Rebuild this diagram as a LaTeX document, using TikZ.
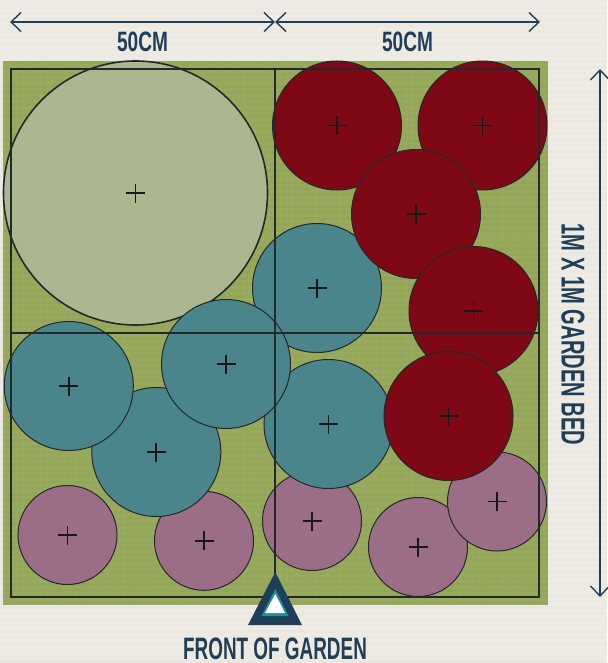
\documentclass[tikz,border=0pt]{standalone}
\usepackage{fontspec}
\usetikzlibrary{arrows.meta}
\setmainfont{Liberation Sans}
\newfontfamily\lblshort[FakeStretch=0.68]{Liberation Sans}
\newfontfamily\lbllong[FakeStretch=0.61]{Liberation Sans}
\definecolor{paper}{HTML}{EEEBE5}
\definecolor{bed}{HTML}{97A95B}
\definecolor{ink}{HTML}{1F3F58}
\definecolor{gridc}{HTML}{23282A}
\definecolor{markc}{HTML}{16191A}
\definecolor{sage}{HTML}{ADB78F}
\definecolor{wine}{HTML}{7E0816}
\definecolor{tealc}{HTML}{4A858B}
\definecolor{plum}{HTML}{9B6D87}
\definecolor{tealb}{HTML}{1F9098}
\tikzset{
  plant/.style={circle,draw=gridc,line width=1pt,inner sep=0pt,outer sep=0pt},
  big/.style={plant,fill=sage,minimum size=264pt,line width=1.6pt},
  red/.style={plant,fill=wine,minimum size=129pt},
  tl/.style={plant,fill=tealc,minimum size=129pt},
  pur/.style={plant,fill=plum,minimum size=99pt},
  mk/.style={draw=markc,line width=1.8pt},
  gridl/.style={gridc,line width=1.6pt},
  dim/.style={ink,line width=1.4pt,{Straight Barb[length=10pt,width=19pt]}-{Straight Barb[length=10pt,width=19pt]}},
  labs/.style={ink,font=\lblshort\bfseries\fontsize{28}{28}\selectfont,inner sep=0pt},
  labl/.style={ink,font=\lbllong\bfseries\fontsize{33}{33}\selectfont,inner sep=0pt},
  labf/.style={ink,font=\lbllong\bfseries\fontsize{31}{31}\selectfont,inner sep=0pt}
}
\newcommand{\plusmark}[1]{\draw[mk] ([xshift=-9.5pt]#1.center) -- ([xshift=9.5pt]#1.center) ([yshift=-9.5pt]#1.center) -- ([yshift=9.5pt]#1.center);}
\begin{document}
\begin{tikzpicture}[x=1pt,y=-1pt]
\useasboundingbox (0,0) rectangle (607,663);
\fill[paper] (0,0) rectangle (607,663);
\pgfmathsetseed{7}
\foreach \i in {0,6,...,606} {\pgfmathsetmacro{\o}{0.01+0.03*rnd}\fill[white,opacity=\o] (\i,0) rectangle ++(3,663);}
\foreach \i in {0,6,...,660} {\pgfmathsetmacro{\o}{0.005+0.012*rnd}\fill[black,opacity=\o] (0,\i) rectangle ++(607,3);}
\fill[bed] (3.3,61) rectangle (548.3,605);
\foreach \i in {3,9,...,543} {\pgfmathsetmacro{\o}{0.005+0.025*rnd}\fill[white,opacity=\o] (\i.3,61) rectangle ++(3,544);}
\foreach \i in {61,67,...,601} {\pgfmathsetmacro{\o}{0.005+0.02*rnd}\fill[black,opacity=\o] (3.3,\i) rectangle ++(545,3);}
% plants
\node[big] (a) at (135.5,193) {};
\node[red] (r1) at (337,125.5) {};
\node[red] (r2) at (482.5,125.5) {};
\node[tl] (t1) at (317,288) {};
\node[red] (r3) at (416,214) {};
\node[red] (r4) at (473.5,311) {};
\node[pur] (p1) at (67.5,535) {};
\node[pur] (p2) at (204,540.8) {};
\node[pur] (p3) at (312,521) {};
\node[pur] (p4) at (418,547) {};
\node[pur] (p5) at (497,501.5) {};
\node[tl] (t4) at (156.3,452) {};
\node[tl] (t3) at (68.8,386) {};
\node[tl] (t5) at (328.5,424) {};
\node[tl] (t2) at (226,364) {};
\node[red] (r5) at (448.5,416) {};
% grid
\draw[gridl] (11,69) rectangle (539,597);
\draw[gridl] (275,69) -- (275,597) (11,333) -- (539,333);
\foreach \n in {a,r1,r2,r3,r4,r5,t1,t2,t3,t4,t5,p1,p2,p3,p4,p5} {\plusmark{\n}}
% front marker
\fill[ink] (275.3,572) -- (302,625) -- (248,625) -- cycle;
\fill[tealb] (275.3,589) -- (288.5,616) -- (261.5,616) -- cycle;
\fill[white] (275.3,594) -- (285,613) -- (265,613) -- cycle;
% dimensions
\coordinate (d1) at (10,22); \coordinate (d2) at (275,22); \coordinate (d3) at (540,22);
\coordinate (d4) at (600,69); \coordinate (d5) at (600,597);
\draw[dim] (d1) -- (d2);
\draw[dim] (d2) -- (d3);
\draw[dim] (d4) -- (d5);
\node[labs] (l1) at (142.5,42) {50CM};
\node[labs] (l2) at (407.5,42) {50CM};
\node[labl,rotate=-90] (l3) at (573,334.5) {1M X 1M GARDEN BED};
\node[labf] (l4) at (275,649) {FRONT OF GARDEN};
\end{tikzpicture}
\end{document}
